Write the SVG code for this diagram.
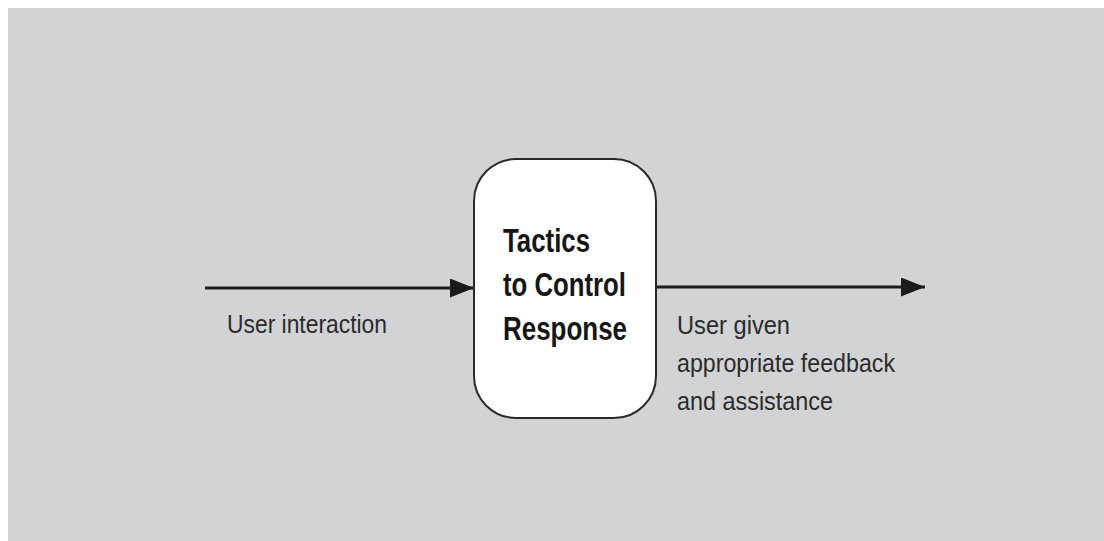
<svg xmlns="http://www.w3.org/2000/svg" width="1104" height="541" viewBox="0 0 1104 541">
  <style>
    .bg { fill: #d2d3d5; }
    .box { fill: #ffffff; stroke: #2a2a2a; stroke-width: 2; }
    .title { font-family: "Liberation Sans", Arial, sans-serif; font-weight: bold; font-size: 33px; fill: #161616; }
    .lbl { font-family: "Liberation Sans", Arial, sans-serif; font-size: 26px; fill: #2b2b2b; }
    .edge { stroke: #1e1e1e; stroke-width: 3; fill: none; }
  </style>
  <defs>
    <marker id="arr" markerWidth="24" markerHeight="19" refX="24" refY="9.5" orient="auto" markerUnits="userSpaceOnUse">
      <path d="M0,0 L24,9.5 L0,19 Z" fill="#1a1a1a"/>
    </marker>
  </defs>
  <rect x="0" y="0" width="1104" height="541" fill="#ffffff"/>
  <rect class="bg" x="8" y="8" width="1096" height="533"/>
  <g id="connectors">
    <line class="edge" x1="205" y1="288" x2="474" y2="288" marker-end="url(#arr)"/>
    <line class="edge" x1="656" y1="287" x2="925" y2="287" marker-end="url(#arr)"/>
  </g>
  <g id="node-tactics">
    <rect class="box" x="474" y="159" width="182" height="259" rx="42" ry="42"/>
    <text class="title" x="503" y="252" textLength="87" lengthAdjust="spacingAndGlyphs">Tactics</text>
    <text class="title" x="503" y="296" textLength="123" lengthAdjust="spacingAndGlyphs">to Control</text>
    <text class="title" x="503" y="340" textLength="124" lengthAdjust="spacingAndGlyphs">Response</text>
  </g>
  <g id="label-input">
    <text class="lbl" x="227" y="333" textLength="160" lengthAdjust="spacingAndGlyphs">User interaction</text>
  </g>
  <g id="label-output">
    <text class="lbl" x="677" y="334" textLength="113" lengthAdjust="spacingAndGlyphs">User given</text>
    <text class="lbl" x="677" y="372" textLength="218" lengthAdjust="spacingAndGlyphs">appropriate feedback</text>
    <text class="lbl" x="677" y="410" textLength="156" lengthAdjust="spacingAndGlyphs">and assistance</text>
  </g>
</svg>
